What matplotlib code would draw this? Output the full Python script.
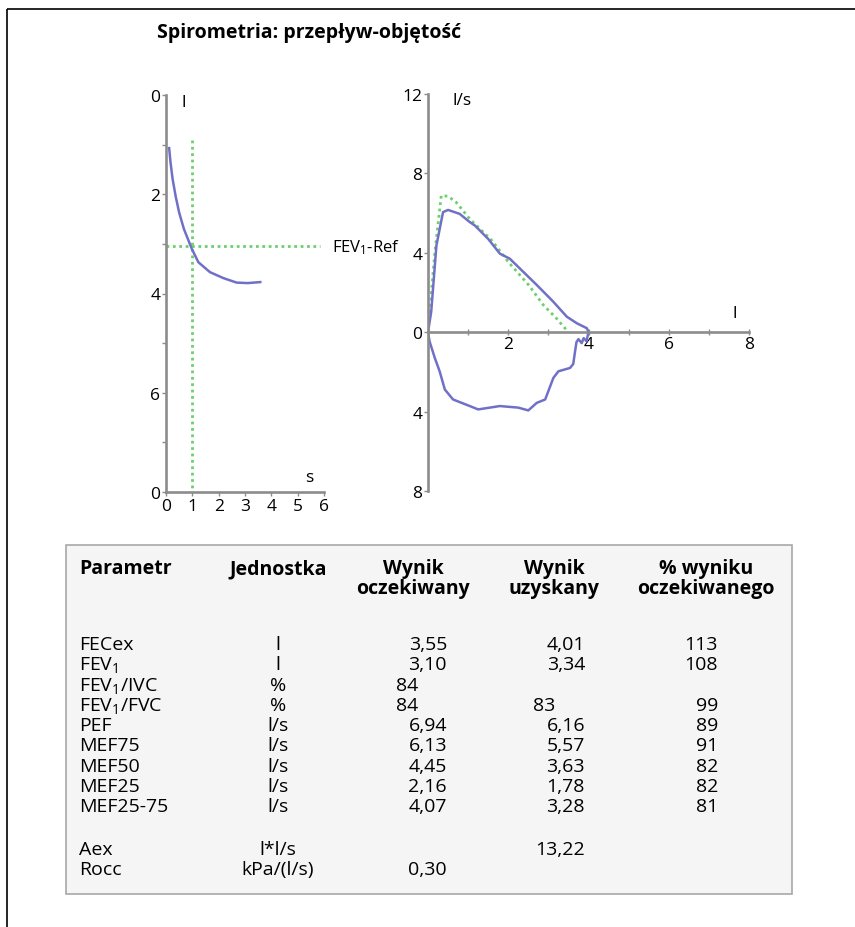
import numpy as np
import matplotlib
matplotlib.use('Agg')
import matplotlib.pyplot as plt
from matplotlib.patches import Rectangle

plt.rcParams['font.family'] = ['Open Sans', 'DejaVu Sans']
plt.rcParams['mathtext.fontset'] = 'custom'
plt.rcParams['mathtext.rm'] = 'Open Sans'
plt.rcParams['mathtext.it'] = 'Open Sans:italic'
plt.rcParams['mathtext.bf'] = 'Open Sans:bold'

# krzywa objętość-czas (s, l)
czas = [0.12, 0.17, 0.25, 0.37, 0.5, 0.68, 0.98, 1.23, 1.67, 2.18, 2.68, 3.1, 3.58]
objetosc = [1.07, 1.35, 1.69, 2.05, 2.37, 2.7, 3.1, 3.37, 3.57, 3.69, 3.78, 3.79, 3.77]
fev1_ref = 3.05
fev1_czas = 1.0

# pętla przepływ-objętość: wydech (l, l/s)
vol_wydech = [0, 0.08, 0.21, 0.375, 0.5, 0.79, 1.04, 1.17, 1.5, 1.79, 2.04, 2.375,
              2.7, 2.96, 3.125, 3.46, 3.71, 3.96, 4.0]
flow_wydech = [0, 1.03, 4.37, 6.05, 6.16, 5.96, 5.55, 5.37, 4.7, 3.96, 3.7, 3.04,
               2.4, 1.87, 1.53, 0.78, 0.45, 0.2, 0.0]
# wdech (przepływ ujemny)
vol_wdech = [4.0, 3.95, 3.88, 3.83, 3.75, 3.7, 3.67, 3.62, 3.54, 3.25, 3.125, 2.92,
             2.71, 2.5, 2.25, 1.79, 1.54, 1.25, 1.04, 0.625, 0.42, 0.29, 0.17, 0.04, 0]
flow_wdech = [0, -0.45, -0.3, -0.55, -0.35, -0.5, -0.9, -1.6, -1.8, -1.97, -2.3, -3.39,
              -3.56, -3.94, -3.8, -3.72, -3.8, -3.89, -3.72, -3.39, -2.89, -1.97, -1.3, -0.47, 0]
# wartości należne
vol_ref = [0, 0.05, 0.17, 0.33, 0.5, 0.7, 1.04, 1.6, 2.0, 2.5, 2.875, 3.2, 3.5]
flow_ref = [0, 1.2, 4.0, 6.88, 6.85, 6.55, 5.71, 4.6, 3.54, 2.4, 1.37, 0.7, 0.0]

# tabela
parametry = ['FECex', r'FEV$_\mathregular{1}$', r'FEV$_\mathregular{1}$/IVC', r'FEV$_\mathregular{1}$/FVC',
             'PEF', 'MEF75', 'MEF50', 'MEF25', 'MEF25-75', 'Aex', 'Rocc']
jednostki = ['l', 'l', '%', '%', 'l/s', 'l/s', 'l/s', 'l/s', 'l/s', 'l*l/s', 'kPa/(l/s)']
oczekiwany = [3.55, 3.10, 84, 84, 6.94, 6.13, 4.45, 2.16, 4.07, None, 0.30]
uzyskany = [4.01, 3.34, None, 83, 6.16, 5.57, 3.63, 1.78, 3.28, 13.22, None]
procent = [113, 108, None, 99, 89, 91, 82, 82, 81, None, None]

niebieski = '#7070c8'
zielony = '#6fcf6f'
szary = '#8c8c8c'

W, H = 855, 928
fig = plt.figure(figsize=(W / 100, H / 100), dpi=100)


def ax_px(x0, y0, x1, y1):
    return fig.add_axes([x0 / W, 1 - y1 / H, (x1 - x0) / W, (y1 - y0) / H])


def styl(ax):
    for s in ['top', 'right']:
        ax.spines[s].set_visible(False)
    for s in ['left', 'bottom']:
        ax.spines[s].set_color(szary)
        ax.spines[s].set_linewidth(1.9)
    ax.tick_params(colors=szary, labelcolor='black', labelsize=12.5, length=3, width=1, pad=1)
    ax.patch.set_alpha(0)


def fmt(v):
    if v is None:
        return ''
    if isinstance(v, int):
        return str(v)
    return f'{v:.2f}'.replace('.', ',')


# tło, ramka, tytuł
tlo = fig.add_axes([0, 0, 1, 1])
tlo.set_xlim(0, W)
tlo.set_ylim(H, 0)
tlo.axis('off')
tlo.plot([7, W + 5], [10, 10], color='black', lw=1.2, solid_capstyle='butt')
tlo.plot([7, 7], [10, H + 5], color='black', lw=1.2, solid_capstyle='butt')
tlo.text(157, 33, 'Spirometria: przepływ-objętość', fontsize=14, fontweight='bold',
         ha='left', va='center')

# wykres objętość-czas
ax1 = ax_px(166, 96, 324, 493)
styl(ax1)
ax1.set_xlim(0, 6)
ax1.set_ylim(8, 0)
ax1.set_xticks(range(0, 7))
ax1.set_yticks(range(0, 9))
ax1.set_yticklabels(['0', '', '2', '', '4', '', '6', '', '0'])
ax1.plot([fev1_czas, fev1_czas], [0.9, 8], color=zielony, lw=2, ls=(0, (1, 1.3)))
ax1.plot([0, 5.85], [fev1_ref, fev1_ref], color=zielony, lw=2, ls=(0, (1, 1.3)))
ax1.plot(czas, objetosc, color=niebieski, lw=1.8)
ax1.text(0.68, 0.14, 'l', fontsize=12.5, ha='center', va='center')
ax1.text(5.43, 7.7, 's', fontsize=12.5, ha='center', va='center')
ax1.text(6.32, fev1_ref, r'FEV$_\mathregular{1}$-Ref', fontsize=12, ha='left', va='center',
         clip_on=False)

# pętla przepływ-objętość
ax2 = ax_px(428, 95, 749, 492)
styl(ax2)
ax2.set_xlim(0, 8)
ax2.set_ylim(-8, 12)
ax2.spines['bottom'].set_position(('data', 0))
ax2.spines['left'].set_position(('data', 0))
ax2.set_xticks(range(0, 9))
ax2.set_xticklabels(['', '', '2', '', '4', '', '6', '', '8'])
ax2.set_yticks([-8, -4, 0, 4, 8, 12])
ax2.set_yticklabels(['8', '4', '0', '4', '8', '12'])
ax2.tick_params(axis='x', direction='inout', length=4)
ax2.plot(vol_ref, flow_ref, color=zielony, lw=2, ls=(0, (1, 1.3)))
ax2.plot(vol_wydech, flow_wydech, color=niebieski, lw=1.8)
ax2.plot(vol_wdech, flow_wdech, color=niebieski, lw=1.8)
ax2.text(0.85, 11.7, 'l/s', fontsize=12.5, ha='center', va='center')
ax2.text(7.65, 0.95, 'l', fontsize=12.5, ha='center', va='center')

# tabela wyników
tlo.add_patch(Rectangle((66, 546), 792 - 66, 895 - 546, facecolor='#f5f5f5',
                        edgecolor='#a8a8a8', lw=1.2))
fs = 14
naglowki = [(79, 'left', 'Parametr', ''), (278, 'center', 'Jednostka', ''),
            (413, 'center', 'Wynik', 'oczekiwany'), (554, 'center', 'Wynik', 'uzyskany'),
            (706, 'center', '% wyniku', 'oczekiwanego')]
for x, ha, l1, l2 in naglowki:
    tlo.text(x, 569, l1, fontsize=fs, fontweight='bold', ha=ha, va='center')
    if l2:
        tlo.text(x, 589, l2, fontsize=fs, fontweight='bold', ha=ha, va='center')

wiersze_y = [645 + 20.3 * i for i in range(9)] + [850, 870]
for i, y in enumerate(wiersze_y):
    tlo.text(79, y, parametry[i], fontsize=fs, ha='left', va='center')
    tlo.text(278, y, jednostki[i], fontsize=fs, ha='center', va='center')
    for v, xr, xl in [(oczekiwany[i], 447, 396), (uzyskany[i], 585, 533)]:
        if isinstance(v, int):
            tlo.text(xl, y, fmt(v), fontsize=fs, ha='left', va='center')
        else:
            tlo.text(xr, y, fmt(v), fontsize=fs, ha='right', va='center')
    tlo.text(718, y, fmt(procent[i]), fontsize=fs, ha='right', va='center')

fig.savefig('out.png', dpi=100)
